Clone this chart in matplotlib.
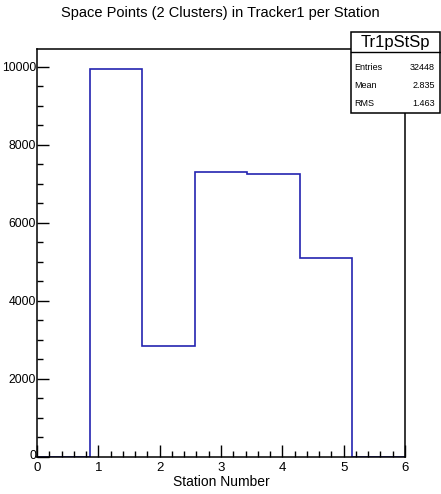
import matplotlib
matplotlib.use("Agg")
import matplotlib.pyplot as plt
import matplotlib.transforms as mtransforms
import numpy as np
from matplotlib.ticker import MultipleLocator, FixedLocator
from matplotlib.patches import Rectangle

plt.rcParams['font.family'] = ['Liberation Sans', 'DejaVu Sans']

# data
bin_edges = list(np.linspace(0, 6, 8))
counts = [0, 9950, 2850, 7300, 7250, 5100, 0]
y_ticks = [0, 2000, 4000, 6000, 8000, 10000]
title = "Space Points (2 Clusters) in Tracker1 per Station"
xlabel = "Station Number"
stats_name = "Tr1pStSp"
stats_labels = ["Entries", "Mean", "RMS"]
stats_values = ["32448", "2.835", "1.463"]

fig = plt.figure(figsize=(4.41, 4.94), dpi=100)
ax = fig.add_axes([37/441, 1-457/494, (405-37)/441, (457-49)/494])

color = '#2424b0'
ax.stairs(counts, bin_edges, color=color, linewidth=1.2)
ax.set_xlim(0, 6)
ax.set_ylim(0, 10450)

ax.xaxis.set_major_locator(MultipleLocator(1))
ax.xaxis.set_minor_locator(MultipleLocator(0.2))
ax.yaxis.set_major_locator(FixedLocator(y_ticks))
ax.yaxis.set_minor_locator(MultipleLocator(500))
ax.tick_params(which='both', direction='in', top=False, right=False, width=1)
ax.tick_params(which='major', length=8.5)
ax.tick_params(which='minor', length=4.5)
ax.tick_params(axis='x', pad=3.5, labelsize=9.5)
ax.tick_params(axis='y', pad=0.8, labelsize=8.8)
for s in ax.spines.values():
    s.set_linewidth(1.1)

# nudge the y "0" label slightly up (avoid colliding with x "0")
t0 = ax.yaxis.get_major_ticks()[0]
t0.label1.set_transform(t0.label1.get_transform() +
                        mtransforms.ScaledTranslation(0, 3/100, fig.dpi_scale_trans))

ax.set_xlabel(xlabel, fontsize=10, labelpad=0.5)
fig.text(0.5, 1-13/494, title, ha='center', va='center', fontsize=10.5)

# stats box
bx0, bx1 = 351/441, 440/441
by_top, by_mid, by_bot = 1-32/494, 1-52/494, 1-113/494
fig.patches.append(Rectangle((bx0, by_bot), bx1-bx0, by_top-by_bot, transform=fig.transFigure,
                             facecolor='white', edgecolor='black', linewidth=1.1, zorder=5))
fig.lines.append(plt.Line2D([bx0, bx1], [by_mid, by_mid], transform=fig.transFigure, color='black', linewidth=1.0, zorder=6))
fig.text((bx0+bx1)/2, (by_top+by_mid)/2, stats_name, ha='center', va='center', fontsize=12, zorder=7)
row_y = [67, 86, 104]
for lab, val, yy in zip(stats_labels, stats_values, row_y):
    y = 1 - yy/494
    fig.text(bx0+3/441, y, lab, ha='left', va='center', fontsize=6.5, zorder=7)
    fig.text(bx1-5/441, y, val, ha='right', va='center', fontsize=6.5, zorder=7)

fig.savefig("out.png", dpi=100)
